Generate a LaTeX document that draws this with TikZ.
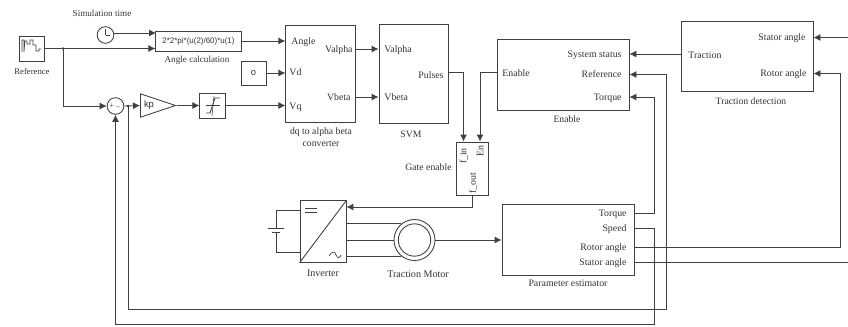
\documentclass[tikz,border=0pt]{standalone}
\usepackage{fontspec}
\setmainfont{Liberation Serif}
\newfontfamily\gainfont{Liberation Sans}
\usetikzlibrary{arrows.meta,shapes.geometric}
\definecolor{wireclr}{gray}{0.25}
\definecolor{textclr}{gray}{0.2}
\begin{document}
\begin{tikzpicture}[x=0.03cm,y=-0.03cm,line width=0.75pt,wireclr,
	>={Latex[length=2.1mm,width=2.1mm]},
	block/.style={draw,rectangle,inner sep=0pt},
	port/.style={inner sep=0pt,text=textclr,font=\fontsize{8.4}{10}\selectfont,text height=2.2mm,text depth=0.2mm},
	title/.style={inner sep=0pt,text=textclr,font=\fontsize{8.3}{10}\selectfont,align=center},
	dot/.style={circle,fill,inner sep=0pt,minimum size=2.5pt}]
	\useasboundingbox (0,0) rectangle (848,326);

	% Source, clock and angle calculation
	\node[block,minimum width=0.75cm,minimum height=0.75cm] (ref) at (31.5,48.5) {};
	\node[title,font=\fontsize{7.4}{9}\selectfont] (reflabel) at (32,71) {Reference};
	\draw[line width=0.5pt] (22,52) -- (22,40) -- (24,40) -- (24,52) -- (25,41) -- (27,41) -- (27,44) -- (30,44)
		-- (30,40) -- (33,40) -- (33,45) -- (36,45) -- (36,51) -- (39,51) -- (39,49) -- (41,49);
	\node[draw,circle,inner sep=0pt,minimum size=0.5cm] (clock) at (105.5,35) {};
	\draw (clock.center) -- (105.5,29);
	\draw (clock.center) -- (110,35);
	\node[title,font=\fontsize{7.8}{9}\selectfont] (clocklabel) at (102,13) {Simulation time};
	\node[block,minimum width=2.56cm,minimum height=0.6cm,font=\fontsize{6.8}{8}\selectfont\gainfont,text=textclr] (calc) at (198.5,41) {2*2*pi*(u(2)/60)*u(1)};
	\node[title,font=\fontsize{7.8}{9}\selectfont] (calclabel) at (197,60) {Angle calculation};
	\node[block,minimum width=0.75cm,minimum height=0.72cm,text=textclr,font=\fontsize{8}{9}\selectfont\gainfont] (zero) at (253.5,73) {o};

	% Sum, gain and limiter
	\node[draw,circle,inner sep=0pt,minimum size=0.5cm] (sum) at (115.5,106) {};
	\node[inner sep=0pt,font=\fontsize{7}{8}\selectfont,text=textclr] (plus) at (112,106) {+};
	\node[inner sep=0pt,font=\fontsize{7}{8}\selectfont,text=textclr] (minus) at (118,107) {\_};
	\node[draw,isosceles triangle,isosceles triangle stretches,minimum width=0.7cm,minimum height=1.05cm,inner sep=0pt,anchor=west] (kp) at (140,105.5) {};
	\node[inner sep=0pt,font=\fontsize{8}{9}\selectfont\gainfont,text=textclr] (kptext) at (149,105.5) {kp};
	\node[block,minimum width=0.76cm,minimum height=0.75cm] (sat) at (212.5,105.5) {};
	\draw[line width=0.5pt] (206,105.5) -- (220,105.5);
	\draw[line width=0.5pt] (212,116) -- (214,96);
	\draw (206,113) -- (210,113) -- (215,98) -- (220,98);

	% dq to alpha beta converter
	\node[block,minimum width=2.08cm,minimum height=2.91cm] (dq) at (320.5,73.5) {};
	\node[port,anchor=west] (dqangle) at (291,41) {Angle};
	\node[port,anchor=west] (dqvd) at (289,72.5) {Vd};
	\node[port,anchor=west] (dqvq) at (289,106) {Vq};
	\node[port,anchor=east] (dqvalpha) at (353,49) {Valpha};
	\node[port,anchor=east] (dqvbeta) at (351,97) {Vbeta};
	\node[title] (dqlabel) at (321,137) {dq to alpha beta\\[0.5pt]converter};

	% SVM
	\node[block,minimum width=2.07cm,minimum height=2.97cm] (svm) at (413.5,73.5) {};
	\node[port,anchor=west] (svmvalpha) at (384,49) {Valpha};
	\node[port,anchor=west] (svmvbeta) at (384,97) {Vbeta};
	\node[port,anchor=east] (svmpulses) at (444,75) {Pulses};
	\node[title] (svmlabel) at (411,134) {SVM};

	% Enable
	\node[block,minimum width=3.96cm,minimum height=2.11cm] (ena) at (563,75) {};
	\node[port,anchor=west] (enaenable) at (502,73) {Enable};
	\node[port,anchor=east] (enastatus) at (622,54) {System status};
	\node[port,anchor=east] (enaref) at (622,74.5) {Reference};
	\node[port,anchor=east] (enatorque) at (622,97) {Torque};
	\node[title] (enalabel) at (567,119) {Enable};

	% Traction detection
	\node[block,minimum width=3.96cm,minimum height=2.1cm] (trac) at (747,56) {};
	\node[port,anchor=west] (tractraction) at (688,55) {Traction};
	\node[port,anchor=east] (tracstator) at (806,37.5) {Stator angle};
	\node[port,anchor=east] (tracrotor) at (807,73.5) {Rotor angle};
	\node[title] (traclabel) at (751,101) {Traction detection};

	% Gate enable
	\node[block,minimum width=0.98cm,minimum height=1.59cm] (gate) at (472.5,168.5) {};
	\node[port,rotate=90] (gatein) at (463,156) {f\_in};
	\node[port,rotate=90] (gateen) at (480,151) {En};
	\node[port,rotate=90] (gateout) at (472.5,183) {f\_out};
	\node[title,anchor=east] (gatelabel) at (452,167) {Gate enable};

	% Inverter, battery and motor
	\node[block,minimum width=1.38cm,minimum height=1.84cm] (inv) at (323,231.5) {};
	\draw (inv.south west) -- (inv.north east);
	\draw[line width=0.6pt] (305,208) -- (317,208);
	\draw[line width=0.6pt] (305,212) -- (317,212);
	\draw[line width=0.6pt] (329,256) .. controls (332,251) and (335,251) .. (336,255) .. controls (338,259) and (340,258) .. (341,255);
	\node[title,font=\fontsize{8.6}{10}\selectfont] (invlabel) at (323,273) {Inverter};
	\coordinate (battop) at (276,210);
	\coordinate (batbot) at (276,252.5);
	\coordinate (platea) at (276,228);
	\coordinate (plateb) at (276,232);
	\draw (inv.west |- battop) -- (battop) -- (platea);
	\draw (plateb) -- (batbot) -- (inv.west |- batbot);
	\draw (268,228) -- (284,228);
	\draw (272,232) -- (280,232);
	\node[draw,circle,inner sep=0pt,minimum size=1.23cm] (motor) at (414.5,240) {};
	\node[draw,circle,inner sep=0pt,minimum size=0.97cm] (rotor) at (414.5,240) {};
	\node[title,font=\fontsize{8.6}{10}\selectfont] (motorlabel) at (418,274.5) {Traction Motor};
	\draw (inv.east |- motor.129) -- (motor.129);
	\draw (inv.east |- motor.west) -- (motor.west);
	\draw (inv.east |- motor.231) -- (motor.231);

	% Parameter estimator
	\node[block,minimum width=3.96cm,minimum height=2.13cm] (est) at (568,239.5) {};
	\node[port,anchor=east] (esttorque) at (627,213) {Torque};
	\node[port,anchor=east] (estspeed) at (627,228.5) {Speed};
	\node[port,anchor=east] (estrotor) at (627,247) {Rotor angle};
	\node[port,anchor=east] (eststator) at (627,262.5) {Stator angle};
	\node[title,font=\fontsize{8.4}{10}\selectfont] (estlabel) at (568,283) {Parameter estimator};

	% Forward signals
	\coordinate (refjoin) at (63,48.5);
	\coordinate (kpjoin) at (128,106);
	\coordinate (clockin) at (156,33);
	\node[dot] (refdot) at (refjoin) {};
	\node[dot] (kpdot) at (kpjoin) {};
	\draw[->] (clock.east |- clockin) -- (clockin);
	\draw[->] (ref.east) -- (calc.west |- ref.east);
	\draw[->] (refjoin) |- (sum.west);
	\draw[->] (sum.east) -- (kp.west);
	\draw[->] (kp.east) -- (sat.west);
	\draw[->] (calc.east) -- (dq.west |- calc.east);
	\draw[->] (zero.east) -- (dq.west |- zero.east);
	\draw[->] (sat.east) -- (dq.west |- sat.east);
	\draw[->] (dq.east |- dqvalpha) -- (svm.west |- dqvalpha);
	\draw[->] (dq.east |- dqvbeta) -- (svm.west |- dqvbeta);
	\coordinate (pulsex) at (463.5,72);
	\coordinate (enablex) at (480,72);
	\draw[->] (svm.east |- pulsex) -- (pulsex) -- (pulsex |- gate.north);
	\draw[->] (ena.west |- enablex) -- (enablex) -- (enablex |- gate.north);
	\coordinate (gatedown) at (472.5,207);
	\draw[->] (gate.south) -- (gatedown) -- (inv.east |- gatedown);
	\draw[->] (motor.east) -- (est.west |- motor.east);
	\draw[->] (trac.west |- enastatus) -- (ena.east |- enastatus);

	% Feedback from the estimator
	\coordinate (torquex) at (654,150);
	\coordinate (speedr) at (654,324);
	\coordinate (speedl) at (115.5,324);
	\coordinate (refr) at (666,309);
	\coordinate (rotorx) at (840,150);
	\coordinate (statorlow) at (848,262.5);
	\coordinate (statortop) at (848,37.5);
	\draw[->] (est.east |- esttorque) -| (torquex) |- (ena.east |- enatorque);
	\draw[->] (est.east |- estspeed) -| (speedr) -- (speedl) -- (sum.south);
	\draw[->] (kpjoin) |- (refr) |- (ena.east |- enaref);
	\draw[->] (est.east |- estrotor) -| (rotorx) |- (trac.east |- tracrotor);
	\draw (est.east |- eststator) -- (statorlow);
	\draw[->] (statortop) -- (trac.east |- tracstator);

\end{tikzpicture}
\end{document}
